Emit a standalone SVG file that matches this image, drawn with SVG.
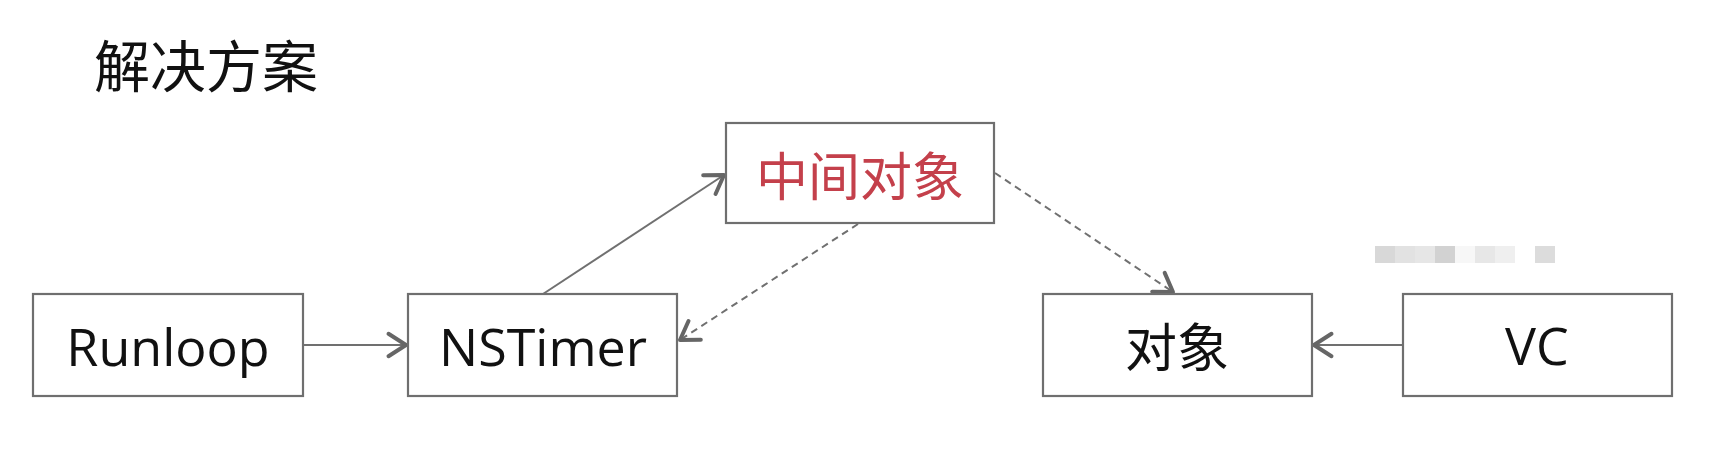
<svg xmlns="http://www.w3.org/2000/svg" width="1710" height="452" viewBox="0 0 1710 452">
<style>
.box{fill:#fff;stroke:#6f6f6f;stroke-width:2.2}
.lbl{font-family:"Open Sans","Noto Sans CJK SC",sans-serif;font-size:52px;fill:#111;text-anchor:middle}
.cjk{font-family:"Noto Sans CJK SC","Noto Sans",sans-serif;fill:#111;text-anchor:middle}
.conn{fill:none;stroke:#707070;stroke-width:2}
.dash{stroke-dasharray:7 5}
</style>
<defs>
<marker id="arr" markerUnits="userSpaceOnUse" markerWidth="30" markerHeight="30" refX="0" refY="0" viewBox="-18 -12 22 24" orient="auto">
<path d="M-14,-9 L0,0 L-14,9" fill="none" stroke="#666" stroke-width="3.2" stroke-linecap="round" stroke-linejoin="round"/>
</marker>
</defs>
<rect width="1710" height="452" fill="#fff"/>
<text id="title" class="cjk" x="206" y="87" font-size="56">解决方案</text>
<g id="watermark">
<rect x="1375" y="246" width="20" height="17" fill="#d8d8d8"/>
<rect x="1395" y="246" width="20" height="17" fill="#e2e2e2"/>
<rect x="1415" y="246" width="20" height="17" fill="#e6e6e6"/>
<rect x="1435" y="246" width="20" height="17" fill="#d2d2d2"/>
<rect x="1455" y="246" width="20" height="17" fill="#f7f7f7"/>
<rect x="1475" y="246" width="20" height="17" fill="#e7e7e7"/>
<rect x="1495" y="246" width="20" height="17" fill="#efefef"/>
<rect x="1535" y="246" width="20" height="17" fill="#dcdcdc"/>
</g>
<g id="connectors">
<line class="conn" x1="304" y1="345" x2="406" y2="345" marker-end="url(#arr)"/>
<line class="conn" x1="543" y1="294" x2="724" y2="175" marker-end="url(#arr)"/>
<line class="conn dash" x1="858" y1="224" x2="680" y2="340" marker-end="url(#arr)"/>
<line class="conn dash" x1="995" y1="173" x2="1173" y2="292" marker-end="url(#arr)"/>
<line class="conn" x1="1402" y1="345" x2="1314" y2="345" marker-end="url(#arr)"/>
</g>
<g id="runloop">
<rect class="box" x="33" y="294" width="270" height="102"/>
<text class="lbl" x="168" y="366">Runloop</text>
</g>
<g id="nstimer">
<rect class="box" x="408" y="294" width="269" height="102"/>
<text class="lbl" x="543" y="366">NSTimer</text>
</g>
<g id="middle">
<rect class="box" x="726" y="123" width="268" height="100"/>
<text class="cjk" x="860" y="196" font-size="52" fill="#c4404b" style="fill:#c4404b">中间对象</text>
</g>
<g id="object">
<rect class="box" x="1043" y="294" width="269" height="102"/>
<text class="cjk" x="1177" y="367" font-size="52">对象</text>
</g>
<g id="vc">
<rect class="box" x="1403" y="294" width="269" height="102"/>
<text class="lbl" x="1537" y="365">VC</text>
</g>
</svg>
